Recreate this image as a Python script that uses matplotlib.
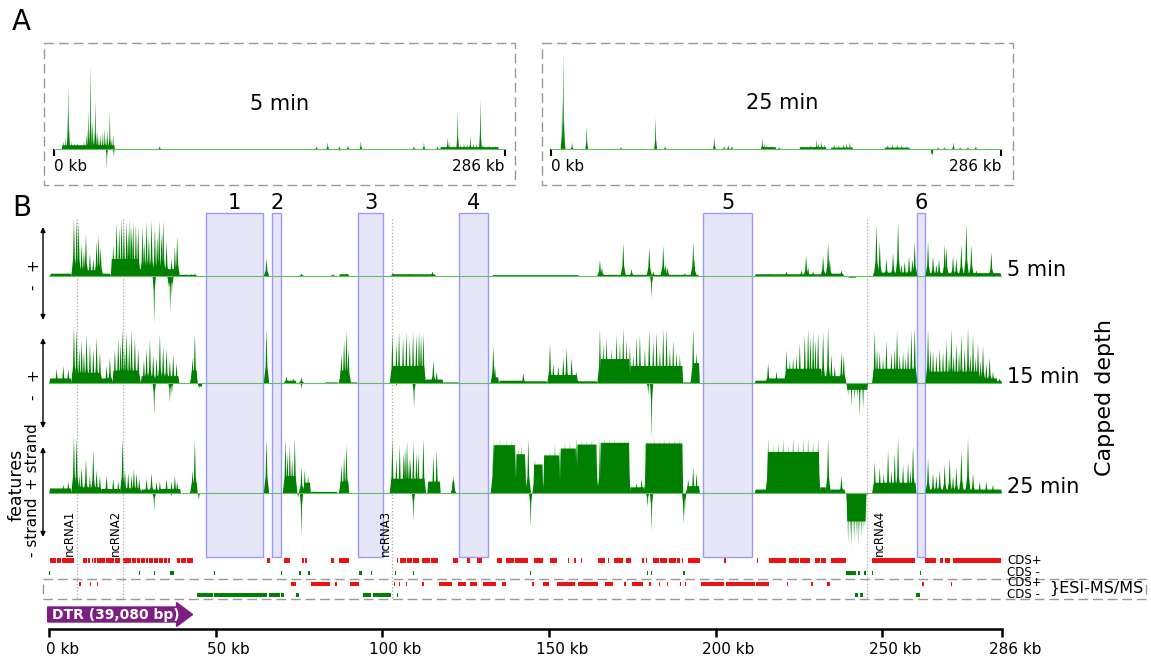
import matplotlib
matplotlib.use('Agg')
import matplotlib.pyplot as plt
import matplotlib.transforms as mtransforms
from matplotlib.collections import PolyCollection
from matplotlib.patches import Rectangle, FancyArrow

W, H = 1151, 659
GREEN = '#008000'
LINE_GREEN = '#66bb66'
RED = '#ee1111'
BOX_FACE = '#e6e6f8'
BOX_EDGE = '#9a9aff'
GENOME_KB = 286

# ---------------- panel A data (kb, relative depth) ----------------
a5_base = [(5, 38.5, 0.04), (245, 282, 0.02)]
a5_peaks = [(6, 0.08), (7.5, 0.12), (8.8, 0.36), (9.3, 0.66), (11, 0.08), (13, 0.06),
            (15, 0.07), (17, 0.03), (19, 0.08), (20.5, 0.15), (21.5, 0.2), (22.0, 0.4),
            (23.2, 0.875), (24.5, 0.3), (25.5, 0.2), (26.4, 0.51), (27.5, 0.18),
            (28.5, 0.12), (29.5, 0.15), (30.5, 0.1), (31, 0.18), (32.2, 0.21), (33, 0.12),
            (34, 0.2), (35.4, 0.385), (36.5, 0.1), (37.5, 0.15), (67, 0.03), (166.5, 0.03),
            (173.6, 0.07), (181, 0.03), (186.4, 0.04), (194.6, 0.08), (228.2, 0.03),
            (234.6, 0.07), (243.2, 0.03), (249.6, 0.12), (250.5, 0.08), (256.0, 0.4),
            (258, 0.05), (260, 0.06), (262, 0.05), (264, 0.14), (266, 0.06), (268, 0.05),
            (270.4, 0.52), (272, 0.05), (276, 0.04), (280, 0.03)]
a5_neg = [(33.5, 0.215), (38, 0.09), (181, 0.03)]

a25_base = [(134, 143, 0.02), (158, 175, 0.02), (178, 192, 0.015), (212, 228, 0.015)]
a25_peaks = [(7.1, 0.49), (7.8, 1.0), (8.3, 0.3), (13.4, 0.07), (22.7, 0.24), (44.5, 0.02),
             (66.5, 0.33), (72.5, 0.03), (103.8, 0.125), (110, 0.03), (112.7, 0.04),
             (115, 0.03), (134.3, 0.115), (135.5, 0.06), (137, 0.04), (140, 0.03),
             (145, 0.02), (160, 0.03), (165, 0.04), (168.9, 0.1), (170, 0.06), (172, 0.08),
             (174, 0.05), (180, 0.05), (183, 0.04), (186, 0.05), (188, 0.06), (190, 0.07),
             (214, 0.04), (217, 0.05), (220, 0.05), (223, 0.04), (226, 0.03), (246, 0.02),
             (250, 0.02), (255.8, 0.07), (260, 0.02), (265, 0.02), (270, 0.03)]
a25_neg_base = [(241.5, 243, 0.05)]
a25_neg = [(242.2, 0.085)]

# ---------------- panel B tracks (kb, capped depth 0..1) ----------------
t5_base = [(0.2, 6.7, 0.04), (6.7, 15.5, 0.1), (15.5, 18.5, 0.04), (18.5, 27, 0.3),
           (27, 38.8, 0.12), (38.8, 44, 0.02), (87, 90, 0.03), (102.7, 116, 0.03),
           (133, 159, 0.015), (165, 195, 0.02), (211.8, 232, 0.03), (232, 238.5, 0.04),
           (247.3, 260.3, 0.06), (263.3, 285.8, 0.05)]
t5_peaks = [(7.4, 1.0), (8.2, 1.0), (8.8, 0.95), (9.7, 0.55), (10.4, 0.45), (11.0, 0.75),
            (12.2, 0.4), (13.2, 0.3), (14.2, 0.6), (14.8, 0.72), (15.4, 0.5), (19.2, 0.55),
            (20.2, 0.95), (21.0, 0.85), (21.7, 1.0), (22.4, 0.9), (23.2, 0.95), (23.7, 0.8),
            (24.2, 1.0), (24.7, 0.85), (25.2, 0.95), (26.0, 0.9), (26.7, 0.85), (28.0, 0.85),
            (28.5, 0.6), (29.2, 0.95), (29.9, 0.7), (30.7, 0.98), (31.7, 0.85), (32.4, 0.7),
            (33.0, 0.98), (33.7, 0.75), (34.2, 0.98), (35.2, 0.6), (36.7, 0.3), (37.7, 0.5),
            (38.4, 0.7), (40.8, 0.03), (42.7, 0.03), (43.7, 0.04), (65.2, 0.31), (75.7, 0.04),
            (85.2, 0.03), (89.2, 0.05), (103.2, 0.05), (105.2, 0.04), (108.2, 0.04),
            (115, 0.08), (165.3, 0.28), (165.9, 0.15), (172.3, 0.58), (174.8, 0.12),
            (180.1, 0.5), (181.3, 0.08), (184.3, 0.53), (185, 0.2), (185.6, 0.15),
            (190.8, 0.05), (193.3, 0.58), (193.6, 0.3), (215.8, 0.04), (221.3, 0.08),
            (225.8, 0.1), (227.2, 0.36), (227.8, 0.15), (229.3, 0.08), (232.3, 0.35),
            (233.8, 0.58), (234.3, 0.3), (237.8, 0.1), (248.3, 0.9), (249.3, 0.6),
            (251.3, 0.3), (253.3, 0.4), (254.8, 0.95), (255.8, 0.2), (256.8, 0.25),
            (258.1, 0.35), (259.1, 0.3), (259.8, 0.6), (263.8, 0.6), (265.3, 0.35),
            (266.3, 0.2), (267.1, 0.3), (268.8, 0.55), (269.3, 0.5), (271.3, 0.35),
            (272.3, 0.3), (273.8, 0.55), (275.3, 0.92), (276.8, 0.55), (278.3, 0.1),
            (280.8, 0.05), (282.8, 0.42)]
t5_neg_base = [(35.6, 37.3, 0.12), (239.8, 242.3, 0.03)]
t5_neg = [(31.5, 0.84), (35.8, 0.2), (36.3, 0.63), (36.8, 0.35), (180.8, 0.39)]

t15_base = [(0, 6.7, 0.08), (6.7, 15.5, 0.18), (15.5, 19, 0.08), (19, 27, 0.22),
            (27.5, 31.5, 0.12), (32, 39, 0.12), (42.5, 44.5, 0.22), (70.7, 74.2, 0.04),
            (82.7, 86.7, 0.01), (87.2, 90, 0.22), (90, 92.5, 0.01), (102.7, 112.8, 0.3),
            (112.8, 118.3, 0.06), (118.3, 123, 0.01), (133.3, 135, 0.1), (135, 142, 0.04),
            (142, 149.5, 0.03), (150, 158.5, 0.14), (158.5, 164.5, 0.03),
            (165.3, 174.3, 0.42), (174.3, 190.3, 0.3), (190.3, 193, 0.01),
            (193.3, 195.3, 0.35), (211.8, 215.5, 0.04), (215.5, 221, 0.08),
            (221, 232, 0.25), (232, 239, 0.12), (247.3, 260.3, 0.25), (263.3, 279, 0.2),
            (279, 284.5, 0.08), (284.5, 286, 0.04)]
t15_peaks = [(2.2, 0.25), (4.2, 0.3), (5.7, 0.25), (7.4, 1.0), (8.2, 0.95), (9.0, 0.6),
             (9.7, 0.75), (10.4, 0.55), (11.2, 0.85), (12.2, 0.7), (13.2, 0.6), (14.2, 0.8),
             (15.2, 0.55), (17.2, 0.3), (18.2, 0.45), (19.7, 0.6), (20.7, 0.8), (21.4, 0.7),
             (22.0, 0.95), (22.7, 0.6), (23.2, 0.9), (24.0, 0.7), (24.7, 0.95), (25.7, 0.8),
             (26.7, 0.6), (28.4, 0.4), (29.2, 0.6), (30.2, 0.75), (31.2, 0.5), (32.2, 0.45),
             (33.2, 0.86), (34.2, 0.65), (35.2, 0.6), (36.2, 0.4), (37.2, 0.5), (38.2, 0.35),
             (43.0, 0.45), (43.7, 0.87), (65.2, 0.96), (71.2, 0.12), (73.2, 0.08),
             (75.7, 0.1), (87.7, 0.5), (88.5, 0.75), (89.2, 0.93), (89.8, 0.6), (103.0, 0.85),
             (104.2, 0.7), (105.0, 0.9), (106.2, 0.8), (107.2, 0.9), (108.2, 0.75),
             (109.2, 0.9), (110.2, 0.85), (111.0, 0.9), (111.6, 0.85), (112.3, 0.87),
             (115.3, 0.4), (116.3, 0.2), (133.3, 0.65), (133.8, 0.3), (142.3, 0.17),
             (150.3, 0.7), (151.3, 0.35), (152.8, 0.3), (154.3, 0.45), (155.3, 0.62),
             (156.8, 0.45), (158.3, 0.2), (165.3, 0.95), (166.3, 0.7), (167.3, 0.8),
             (168.8, 0.6), (170.3, 0.85), (171.3, 0.7), (172.3, 0.97), (173.3, 0.75),
             (174.3, 0.65), (175.3, 0.5), (176.3, 0.8), (177.3, 0.85), (178.8, 0.6),
             (180.1, 0.95), (181.3, 0.75), (182.3, 0.9), (183.3, 0.6), (184.3, 0.95),
             (185.3, 0.95), (186.3, 0.6), (187.3, 0.75), (188.3, 0.55), (189.3, 0.5),
             (193.3, 0.95), (194.3, 0.55), (215.8, 0.35), (218.3, 0.2), (221.3, 0.58),
             (222.3, 0.4), (223.3, 0.45), (224.3, 0.5), (225.3, 0.7), (226.8, 0.85),
             (227.8, 0.95), (228.5, 0.8), (229.3, 0.9), (230.0, 0.75), (230.8, 0.9),
             (232.3, 0.9), (233.8, 0.98), (234.8, 0.5), (235.8, 0.3), (237.8, 0.55),
             (238.5, 0.5), (247.8, 0.9), (248.5, 0.6), (249.3, 0.55), (250.3, 0.45),
             (251.3, 0.75), (252.8, 0.55), (253.8, 0.6), (254.5, 0.93), (255.3, 0.5),
             (256.3, 0.55), (257.1, 0.45), (257.8, 0.65), (258.8, 0.92), (259.8, 0.98),
             (263.8, 0.95), (264.5, 0.6), (265.3, 0.55), (266.3, 0.5), (267.3, 0.6),
             (268.3, 0.55), (269.3, 0.75), (270.1, 0.5), (270.8, 0.95), (271.5, 0.5),
             (272.3, 0.7), (273.1, 0.55), (273.8, 0.85), (274.8, 0.6), (275.8, 0.98),
             (276.5, 0.5), (277.3, 0.85), (278.1, 0.45), (278.8, 0.7), (279.6, 0.4),
             (280.3, 0.65), (281.3, 0.35), (282.3, 0.45), (283.3, 0.2), (284.3, 0.1),
             (285.3, 0.08)]
t15_neg_base = [(44.5, 46, 0.06), (239.3, 245.8, 0.12)]
t15_neg = [(31.5, 0.56), (36.2, 0.35), (36.8, 0.2), (45.2, 0.1), (75.7, 0.1), (104.2, 0.05),
           (109.5, 0.44), (179.8, 0.2), (180.8, 0.97), (190.8, 0.02), (239.8, 0.22),
           (240.8, 0.4), (241.8, 0.3), (242.6, 0.25), (243.3, 0.6), (244.3, 0.45),
           (245.2, 0.15)]

t25_base = [(0, 6.7, 0.08), (6.7, 15.5, 0.1), (15.5, 21.5, 0.07), (22.5, 27.5, 0.08),
            (27.5, 33, 0.06), (33, 39.5, 0.07), (42.5, 44.5, 0.18), (70.7, 74.2, 0.3),
            (76.5, 78.5, 0.18), (78.5, 86.5, 0.02), (87.2, 90, 0.2), (102.7, 112.8, 0.25),
            (113.5, 117.5, 0.2), (120.8, 121.8, 0.2), (133.3, 140, 0.84), (140, 143, 0.68),
            (145.3, 148.3, 0.5), (148.3, 153.3, 0.66), (153.3, 158.3, 0.78),
            (158.3, 164.5, 0.85), (165.3, 174.3, 0.88), (174.3, 178.8, 0.1),
            (178.8, 190.3, 0.87), (191.3, 195.3, 0.12), (211.8, 215.5, 0.06),
            (215.5, 231.3, 0.72), (231.3, 233.3, 0.1), (234.3, 239, 0.06),
            (247.3, 260.3, 0.18), (263.3, 286, 0.06)]
t25_peaks = [(4.2, 0.15), (5.7, 0.2), (7.4, 1.0), (8.2, 0.98), (9.0, 0.3), (9.7, 0.45),
             (11.0, 0.6), (12.2, 0.3), (13.2, 0.75), (14.2, 0.4), (15.2, 0.3), (17.2, 0.3),
             (19.2, 0.25), (20.7, 0.2), (22.0, 0.96), (22.7, 0.4), (23.7, 0.35), (24.7, 0.3),
             (25.4, 0.42), (26.2, 0.35), (27.0, 0.25), (29.2, 0.25), (30.7, 0.35),
             (32.2, 0.2), (33.2, 0.2), (35.2, 0.25), (36.7, 0.2), (37.7, 0.3), (38.4, 0.2),
             (43.0, 0.4), (43.7, 0.93), (65.2, 0.96), (70.9, 0.95), (71.5, 0.7), (72.2, 0.85),
             (72.9, 0.6), (73.7, 0.95), (75.7, 0.45), (76.7, 0.4), (77.7, 0.3), (87.7, 0.5),
             (88.5, 0.65), (89.2, 0.85), (103.0, 0.95), (104.2, 0.6), (105.2, 0.85),
             (106.4, 0.7), (106.8, 0.8), (107.4, 0.9), (108.0, 0.6), (108.4, 0.6),
             (109.3, 0.9), (110.2, 0.7), (110.8, 0.7), (112.3, 0.95), (115.3, 0.65),
             (116.3, 0.75), (121.3, 0.3), (133.3, 0.95), (134.3, 0.92), (135.3, 0.97),
             (136.3, 0.9), (137.3, 0.95), (138.8, 0.93), (139.8, 0.9), (140.8, 0.8),
             (141.8, 0.85), (142.8, 0.7), (143.8, 0.95), (145.8, 0.6), (147.3, 0.55),
             (148.8, 0.7), (150.3, 0.75), (151.8, 0.85), (153.3, 0.8), (154.8, 0.9),
             (156.3, 0.9), (158.3, 0.97), (159.8, 0.95), (161.3, 0.93), (162.8, 0.95),
             (164.3, 0.6), (165.3, 0.95), (166.8, 0.97), (168.3, 0.95), (169.8, 0.97),
             (171.3, 0.95), (172.8, 0.96), (173.8, 0.95), (176.3, 0.18), (177.8, 0.25),
             (179.3, 0.95), (180.8, 0.7), (181.8, 0.97), (183.3, 0.95), (184.8, 0.97),
             (186.3, 0.95), (187.8, 0.96), (189.3, 0.97), (191.8, 0.25), (193.3, 0.45),
             (194.3, 0.35), (215.8, 0.95), (217.3, 0.85), (218.8, 0.9), (220.3, 0.95),
             (221.8, 0.85), (223.3, 0.97), (224.8, 0.9), (226.3, 0.95), (227.8, 0.97),
             (229.3, 0.9), (230.8, 0.95), (233.8, 0.95), (237.8, 0.3), (247.8, 0.55),
             (249.3, 0.45), (250.5, 0.35), (251.8, 0.75), (252.8, 0.4), (253.8, 0.7),
             (254.8, 0.98), (256.3, 0.5), (257.8, 0.55), (258.5, 0.4), (259.3, 0.85),
             (263.8, 0.6), (265.3, 0.35), (266.3, 0.3), (267.3, 0.4), (268.8, 0.5),
             (270.3, 0.6), (271.3, 0.3), (272.3, 0.45), (273.8, 0.75), (275.8, 0.98),
             (277.3, 0.35), (279.3, 0.2), (281.3, 0.2), (283.3, 0.15), (284.8, 0.05)]
t25_neg_base = [(239.3, 245.3, 0.5)]
t25_neg = [(31.5, 0.3), (36.7, 0.05), (44.9, 0.12), (74.7, 0.08), (75.7, 0.75),
           (109.3, 0.5), (144.5, 0.6), (179.6, 0.25), (180.8, 0.67), (190.4, 0.55),
           (190.8, 0.4), (239.8, 0.9), (240.5, 0.75), (240.8, 0.95), (241.3, 0.7),
           (241.8, 0.85), (242.3, 0.75), (242.8, 0.93), (243.3, 0.7), (243.8, 0.8),
           (244.3, 0.65), (244.8, 0.6), (261, 0.02)]

track_labels = ['5 min', '15 min', '25 min']

# ---------------- regions, ncRNAs, features ----------------
box_labels = ['1', '2', '3', '4', '5', '6']
box_start = [47.0, 66.9, 92.7, 123.0, 196.3, 260.4]
box_end = [64.2, 69.6, 100.2, 131.8, 211.1, 263.0]

ncrna_names = ['ncRNA1', 'ncRNA2', 'ncRNA3', 'ncRNA4']
ncrna_pos = [8.2, 22.0, 102.9, 245.6]

cds_plus = [(0.2, 2.0), (2.2, 3.5), (3.7, 5.2), (5.4, 6.4), (6.6, 7.3), (10.0, 11.2),
            (11.5, 12.2), (12.8, 13.2), (13.5, 14.0), (14.3, 16.8), (17.0, 19.5),
            (19.8, 21.2), (22.2, 24.5), (24.8, 26.0), (26.3, 27.2), (27.5, 28.7),
            (29.0, 29.5), (30.0, 31.2), (31.5, 32.5), (33.0, 34.0), (34.3, 35.2),
            (35.5, 36.2), (38.2, 39.2), (39.5, 41.0), (41.3, 43.2), (65.5, 66.2),
            (70.5, 72.4), (75.9, 76.4), (76.9, 77.4), (84.5, 85.6), (86.9, 89.9),
            (104.4, 104.8), (105.2, 107.0), (107.3, 109.0), (109.3, 111.0), (111.8, 114.2),
            (114.6, 116.7), (121.2, 122.7), (125.4, 126.2), (128.5, 130.0), (134.4, 136.0),
            (137.2, 139.5), (139.8, 141.2), (141.3, 143.8), (145.5, 148.3), (150.3, 152.5),
            (155.6, 156.0), (157.6, 158.0), (159.6, 160.0), (164.8, 166.8), (167.6, 168.1),
            (169.6, 172.3), (173.1, 174.6), (178.0, 178.6), (179.1, 179.5), (181.1, 183.0),
            (183.3, 185.3), (186.0, 188.0), (188.3, 189.3), (189.8, 190.3), (191.8, 195.3),
            (202.6, 203.1), (212.4, 212.9), (216.1, 221.3), (222.1, 225.0), (225.3, 228.3),
            (229.8, 231.5), (231.8, 233.3), (234.8, 239.1), (247.1, 259.8), (263.0, 266.3),
            (267.5, 268.2), (268.8, 270.3), (271.3, 285.8)]
cds_minus = [(0.0, 0.3), (27.0, 27.3), (31.5, 31.8), (36.2, 37.4), (49.3, 49.6),
             (69.5, 69.8), (75.0, 75.6), (77.6, 78.2), (93.0, 93.8), (96.6, 96.9),
             (103.9, 104.2), (109.1, 109.4), (144.2, 144.5), (179.5, 179.8), (180.5, 180.8),
             (190.3, 190.9), (239.3, 242.1), (242.9, 243.5), (244.6, 245.3), (247.0, 247.3),
             (261.4, 261.7)]
esi_plus = [(9.0, 9.5), (12.2, 12.6), (14.2, 14.7), (72.5, 74.0), (78.7, 84.2), (85.7, 86.5),
            (90.2, 93.0), (103.4, 103.8), (105.0, 105.4), (107.0, 107.4), (111.9, 112.4),
            (116.9, 120.9), (122.7, 125.2), (126.4, 128.4), (130.2, 134.2), (136.0, 137.2),
            (144.8, 145.5), (148.3, 150.1), (152.5, 157.8), (158.6, 164.8), (166.8, 169.3),
            (172.6, 173.1), (174.8, 178.3), (180.0, 180.5), (183.0, 183.3), (185.4, 185.7),
            (189.4, 189.7), (190.9, 191.2), (195.6, 202.5), (203.1, 211.8), (212.3, 216.1),
            (221.5, 221.9), (228.8, 229.2), (233.5, 234.5), (262.0, 262.7), (270.7, 271.0)]
esi_minus = [(44.2, 49.2), (49.4, 65.4), (66.0, 69.2), (69.6, 70.4), (74.2, 74.9),
             (94.2, 96.5), (97.2, 102.5), (104.4, 104.8), (242.0, 242.8), (243.5, 244.3),
             (260.1, 261.3)]

dtr_kb = 43.0
axis_ticks = [0, 50, 100, 150, 200, 250, 286]
axis_labels = ['0 kb', '50 kb', '100 kb', '150 kb', '200 kb', '250 kb', '286 kb']


def fig_rect(x0, y0, x1, y1):
    # pixel box (top-left origin) -> figure fraction
    return [x0 / W, 1 - y1 / H, (x1 - x0) / W, (y1 - y0) / H]


def spike(k, h, w):
    # sharp tip on a wider foot, like a read pile-up
    return [(k - w, 0), (k - w / 3, 0.3 * h), (k - w / 8, 0.75 * h), (k, h),
            (k + w / 8, 0.75 * h), (k + w / 3, 0.3 * h), (k + w, 0)]


def coverage(ax, base, peaks, neg_base=(), neg_peaks=(), w=0.8, wn=0.5):
    r = 0.25
    polys = [[(a, 0), (a + r, h), (b - r, h), (b, 0)] for a, b, h in base]
    polys += [spike(k, h, w) for k, h in peaks]
    polys += [[(a, 0), (a + r, -h), (b - r, -h), (b, 0)] for a, b, h in neg_base]
    polys += [spike(k, -h, wn) for k, h in neg_peaks]
    ax.add_collection(PolyCollection(polys, facecolors=GREEN, edgecolors='none'))


fig = plt.figure(figsize=(W / 100, H / 100), dpi=100)

# ---------------- panel A ----------------
for (x0, x1), base, peaks, nb, neg in [((54, 505), a5_base, a5_peaks, [], a5_neg),
                                       ((551, 1001), a25_base, a25_peaks, a25_neg_base, a25_neg)]:
    ax = fig.add_axes(fig_rect(x0, 53, x1, 175))
    ax.set_facecolor('none')
    coverage(ax, base, peaks, nb, neg, w=0.9, wn=0.7)
    ax.set_xlim(0, GENOME_KB)
    ax.set_ylim(-0.27, 1.0)
    for s in ['left', 'top', 'right']:
        ax.spines[s].set_visible(False)
    ax.spines['bottom'].set_position(('data', 0))
    ax.spines['bottom'].set_color(LINE_GREEN)
    ax.set_yticks([])
    ax.set_xticks([0, GENOME_KB])
    ax.set_xticklabels(['0 kb', '286 kb'], fontsize=11)
    ax.tick_params(axis='x', length=5, width=1.5, pad=2)
    lbls = ax.get_xticklabels()
    lbls[0].set_ha('left')
    lbls[1].set_ha('right')

# ---------------- panel B base axes ----------------
axb = fig.add_axes(fig_rect(49.3, 200, 1002, 629))
axb.set_facecolor('none')
axb.set_xlim(0, GENOME_KB)
axb.set_ylim(629, 200)
for s in ['left', 'top', 'right']:
    axb.spines[s].set_visible(False)
axb.spines['bottom'].set_linewidth(1.8)
axb.set_yticks([])
axb.set_xticks(axis_ticks)
axb.set_xticklabels(axis_labels, fontsize=11)
axb.tick_params(axis='x', length=6, width=1.8, pad=3)
shift = mtransforms.ScaledTranslation(0.13, 0, fig.dpi_scale_trans)
for lab in axb.get_xticklabels():
    lab.set_transform(lab.get_transform() + shift)

for lab, s, e in zip(box_labels, box_start, box_end):
    axb.add_patch(Rectangle((s, 213), e - s, 557 - 213, facecolor=BOX_FACE,
                            edgecolor=BOX_EDGE, lw=1))
    axb.text((s + e) / 2, 203, lab, ha='center', va='center', fontsize=15)

axb.vlines(ncrna_pos, 219, 599, colors='#aaaaaa', linestyles=':', lw=0.9)
for name, p in zip(ncrna_names, ncrna_pos):
    if name == 'ncRNA4':
        axb.text(p + 1.5, 556, name, rotation=90, ha='left', va='bottom', fontsize=8.5)
    else:
        axb.text(p - 0.2, 556, name, rotation=90, ha='right', va='bottom', fontsize=8.5)

for rows, yc, col in [(cds_plus, 560.5, RED), (cds_minus, 573, GREEN),
                      (esi_plus, 584, RED), (esi_minus, 595, GREEN)]:
    axb.broken_barh([(a, b - a) for a, b in rows], (yc - 2.3, 4.6), facecolors=col)

axb.add_patch(FancyArrow(-0.5, 614.5, dtr_kb + 0.5, 0, width=15, head_width=24,
                         head_length=4.8, length_includes_head=True,
                         color='#7d1f80', clip_on=False))
axb.text(0.8, 614.5, 'DTR (39,080 bp)', color='white', fontweight='bold',
         fontsize=10, ha='left', va='center')

# ---------------- panel B tracks ----------------
tracks = [(276, t5_base, t5_peaks, t5_neg_base, t5_neg),
          (383, t15_base, t15_peaks, t15_neg_base, t15_neg),
          (493, t25_base, t25_peaks, t25_neg_base, t25_neg)]
for (b, base, peaks, nb, neg), name in zip(tracks, track_labels):
    ax = fig.add_axes(fig_rect(49.3, b - 57, 1002, b + 57))
    ax.set_facecolor('none')
    ax.plot([0, GENOME_KB], [0, 0], color=LINE_GREEN, lw=0.8)
    coverage(ax, base, peaks, nb, neg)
    ax.set_xlim(0, GENOME_KB)
    ax.set_ylim(-1, 1)
    ax.axis('off')

# ---------------- overlay (pixel coordinates) ----------------
ov = fig.add_axes([0, 0, 1, 1])
ov.set_xlim(0, W)
ov.set_ylim(H, 0)
ov.axis('off')

dash = (0, (7, 3.5))
ov.add_patch(Rectangle((44, 43), 471, 142, fill=False, ec='#999999', lw=1, ls=dash))
ov.add_patch(Rectangle((542, 43), 471, 142, fill=False, ec='#999999', lw=1, ls=dash))
ov.add_patch(Rectangle((42.7, 579), 1146 - 42.7, 20, fill=False, ec='#999999', lw=1, ls=dash))

ov.text(12, 22, 'A', fontsize=20, ha='left', va='center')
ov.text(12, 208, 'B', fontsize=20, ha='left', va='center')
ov.text(280, 104, '5 min', fontsize=15, ha='center', va='center')
ov.text(782, 103, '25 min', fontsize=15, ha='center', va='center')

for y0, y1 in [(227, 320), (338, 428), (447, 537)]:
    ov.annotate('', xy=(43, y0), xytext=(43, y1),
                arrowprops=dict(arrowstyle='<|-|>', color='k', lw=1,
                                mutation_scale=7, shrinkA=0, shrinkB=0))
for txt, y in [('+', 265), ('-', 287), ('+', 375), ('-', 397)]:
    ov.text(33, y, txt, rotation=90, fontsize=11, ha='center', va='center')
ov.text(33, 457, '+ strand', rotation=90, fontsize=11, ha='center', va='center')
ov.text(33, 527, '- strand', rotation=90, fontsize=11, ha='center', va='center')
ov.text(17, 485, 'features', rotation=90, fontsize=12.5, ha='center', va='center')

for name, y in zip(track_labels, [270, 377, 487]):
    ov.text(1007, y, name, fontsize=15, ha='left', va='center')
ov.text(1105, 398, 'Capped depth', rotation=90, fontsize=16, ha='center', va='center')

for txt, y in [('CDS+', 560.5), ('CDS -', 572), ('CDS+', 583), ('CDS -', 594.5)]:
    ov.text(1007, y, txt, fontsize=8.5, ha='left', va='center')
ov.text(1049, 588, '}ESI-MS/MS', fontsize=11.5, ha='left', va='center')

fig.savefig('out.png', dpi=100)
